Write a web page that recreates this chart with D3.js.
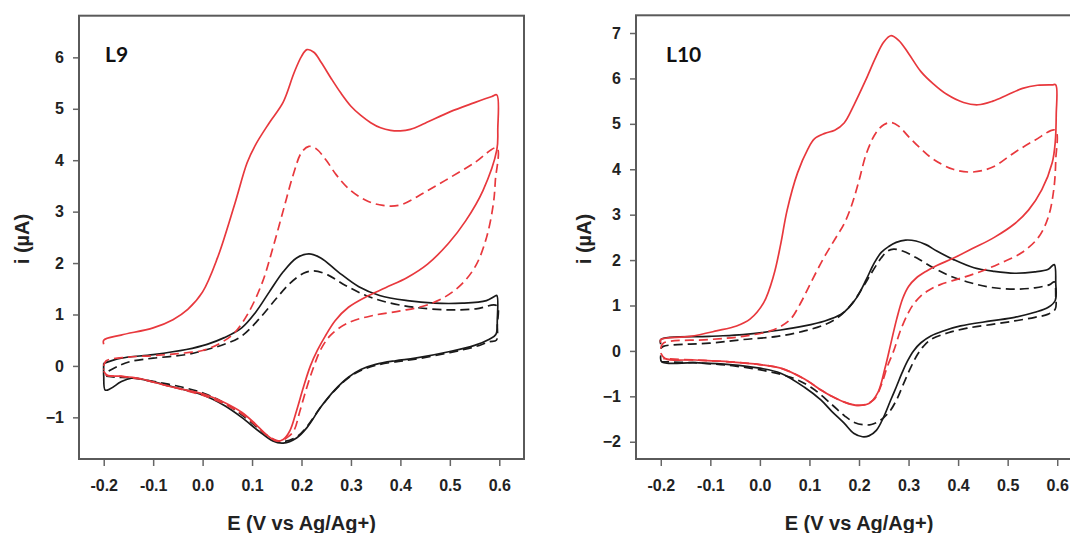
<!DOCTYPE html>
<html>
<head>
<meta charset="utf-8">
<script src="https://cdn.jsdelivr.net/npm/d3@7"></script>
<style>
  html, body { margin: 0; padding: 0; background: #fff; }
  svg { display: block; }
  .tick text { font-family: "Liberation Sans", Arial, sans-serif; font-weight: bold; font-size: 16px; fill: #222; }
  .tick line { stroke: #666; stroke-width: 1.5; }
</style>
</head>
<body>
<svg id="chart" width="1070" height="533"></svg>
<script>
// ---------- data ----------
const xTickValues = [-0.2, -0.1, 0.0, 0.1, 0.2, 0.3, 0.4, 0.5, 0.6];
const xTickLabels = ["-0.2", "-0.1", "0.0", "0.1", "0.2", "0.3", "0.4", "0.5", "0.6"];
const l9YTicks = [-1, 0, 1, 2, 3, 4, 5, 6];
const l10YTicks = [-2, -1, 0, 1, 2, 3, 4, 5, 6, 7];
const panelNames = ["L9", "L10"];
const xTitle = "E (V vs Ag/Ag+)";
const yTitle = "i (µA)";

// L9 curves [E (V), i (µA)]
const l9RedSolid = [[-0.2,0.42],[-0.2,0.5],[-0.165,0.6],[-0.1,0.74],[-0.06,0.9],[-0.03,1.1],[0.0,1.44],[0.03,2.1],[0.065,3.15],[0.09,3.95],[0.107,4.3],[0.135,4.73],[0.163,5.13],[0.185,5.7],[0.2,6.02],[0.211,6.15],[0.225,6.1],[0.24,5.9],[0.26,5.59],[0.28,5.3],[0.3,5.05],[0.32,4.87],[0.34,4.73],[0.36,4.63],[0.38,4.58],[0.4,4.57],[0.42,4.6],[0.45,4.72],[0.5,4.94],[0.55,5.12],[0.585,5.24],[0.595,5.27],[0.597,4.6],[0.595,4.2],[0.567,3.41],[0.532,2.82],[0.497,2.38],[0.455,1.98],[0.414,1.72],[0.37,1.52],[0.33,1.34],[0.295,1.14],[0.268,0.88],[0.248,0.58],[0.232,0.3],[0.218,0.0],[0.204,-0.41],[0.19,-0.87],[0.176,-1.27],[0.163,-1.43],[0.149,-1.46],[0.128,-1.33],[0.107,-1.13],[0.079,-0.9],[0.044,-0.71],[0.009,-0.57],[-0.033,-0.47],[-0.074,-0.38],[-0.13,-0.24],[-0.165,-0.2],[-0.193,-0.18],[-0.2,-0.1]];
const l9RedDash = [[-0.2,0.0],[-0.195,0.1],[-0.15,0.17],[-0.1,0.2],[-0.05,0.24],[0.0,0.3],[0.037,0.45],[0.065,0.65],[0.093,1.04],[0.121,1.63],[0.142,2.29],[0.163,3.02],[0.184,3.74],[0.2,4.15],[0.215,4.27],[0.23,4.22],[0.25,4.0],[0.27,3.72],[0.295,3.45],[0.33,3.22],[0.365,3.12],[0.4,3.13],[0.45,3.38],[0.5,3.66],[0.55,3.95],[0.595,4.24],[0.592,3.6],[0.588,3.15],[0.574,2.49],[0.553,1.96],[0.525,1.6],[0.49,1.34],[0.449,1.17],[0.4,1.07],[0.344,0.98],[0.295,0.84],[0.26,0.61],[0.239,0.32],[0.225,-0.01],[0.211,-0.41],[0.197,-0.87],[0.184,-1.27],[0.17,-1.4],[0.156,-1.46],[0.135,-1.38],[0.107,-1.15],[0.079,-0.93],[0.044,-0.74],[0.009,-0.6],[-0.033,-0.48],[-0.074,-0.38],[-0.13,-0.25],[-0.17,-0.2],[-0.195,-0.18],[-0.2,-0.05]];
const l9BlackSolid = [[-0.2,0.05],[-0.165,0.15],[-0.1,0.22],[-0.033,0.32],[0.009,0.42],[0.044,0.55],[0.079,0.74],[0.107,1.04],[0.135,1.44],[0.163,1.83],[0.19,2.1],[0.215,2.18],[0.239,2.1],[0.274,1.83],[0.316,1.54],[0.358,1.37],[0.414,1.27],[0.469,1.22],[0.525,1.22],[0.574,1.27],[0.59,1.35],[0.595,1.37],[0.596,0.9],[0.593,0.61],[0.58,0.52],[0.55,0.4],[0.5,0.28],[0.43,0.15],[0.39,0.1],[0.35,0.03],[0.32,-0.07],[0.295,-0.22],[0.267,-0.47],[0.239,-0.8],[0.211,-1.2],[0.19,-1.4],[0.163,-1.5],[0.142,-1.46],[0.114,-1.27],[0.079,-1.0],[0.044,-0.77],[0.002,-0.57],[-0.047,-0.44],[-0.1,-0.31],[-0.144,-0.24],[-0.165,-0.31],[-0.186,-0.44],[-0.197,-0.47],[-0.2,-0.2],[-0.2,0.05]];
const l9BlackDash = [[-0.19,-0.1],[-0.17,0.0],[-0.144,0.09],[-0.1,0.15],[-0.033,0.22],[0.009,0.32],[0.044,0.42],[0.079,0.58],[0.114,0.91],[0.149,1.31],[0.176,1.6],[0.204,1.8],[0.225,1.85],[0.253,1.77],[0.288,1.57],[0.33,1.37],[0.372,1.24],[0.428,1.14],[0.497,1.09],[0.553,1.11],[0.595,1.17],[0.596,0.8],[0.594,0.5],[0.58,0.47],[0.55,0.37],[0.5,0.26],[0.43,0.13],[0.39,0.08],[0.35,0.01],[0.32,-0.09],[0.295,-0.23],[0.267,-0.48],[0.239,-0.8],[0.211,-1.18],[0.19,-1.38],[0.163,-1.47],[0.142,-1.43],[0.114,-1.22],[0.079,-0.95],[0.044,-0.72],[0.002,-0.53],[-0.047,-0.4],[-0.1,-0.3],[-0.144,-0.23],[-0.175,-0.22],[-0.195,-0.2]];

// L10 curves [E (V), i (µA)]
const l10RedSolid = [[-0.2,0.18],[-0.2,0.25],[-0.141,0.32],[-0.088,0.44],[-0.047,0.55],[-0.02,0.7],[0.008,1.07],[0.028,1.67],[0.042,2.35],[0.055,3.1],[0.076,3.92],[0.097,4.45],[0.11,4.67],[0.131,4.79],[0.151,4.86],[0.17,5.02],[0.19,5.42],[0.213,5.95],[0.234,6.47],[0.25,6.8],[0.264,6.94],[0.28,6.84],[0.3,6.55],[0.325,6.15],[0.35,5.88],[0.377,5.65],[0.411,5.47],[0.44,5.42],[0.47,5.5],[0.5,5.64],[0.53,5.78],[0.56,5.85],[0.59,5.86],[0.597,5.86],[0.598,5.2],[0.596,4.6],[0.59,4.15],[0.569,3.55],[0.542,3.1],[0.514,2.8],[0.473,2.5],[0.432,2.27],[0.39,2.04],[0.357,1.88],[0.335,1.75],[0.315,1.6],[0.3,1.42],[0.288,1.15],[0.276,0.7],[0.264,0.15],[0.252,-0.4],[0.238,-0.92],[0.22,-1.16],[0.197,-1.2],[0.176,-1.15],[0.145,-1.0],[0.123,-0.86],[0.09,-0.62],[0.042,-0.38],[0.0,-0.3],[-0.061,-0.24],[-0.13,-0.2],[-0.191,-0.17],[-0.2,-0.05]];
const l10RedDash = [[-0.2,0.05],[-0.195,0.17],[-0.102,0.25],[-0.034,0.32],[0.021,0.44],[0.042,0.54],[0.062,0.7],[0.082,1.05],[0.105,1.55],[0.129,2.05],[0.152,2.47],[0.17,2.8],[0.185,3.2],[0.2,3.75],[0.215,4.35],[0.234,4.8],[0.25,4.98],[0.265,5.03],[0.28,4.95],[0.3,4.72],[0.325,4.45],[0.35,4.22],[0.39,4.0],[0.43,3.94],[0.47,4.05],[0.514,4.37],[0.555,4.64],[0.596,4.86],[0.597,4.2],[0.593,3.55],[0.582,2.95],[0.562,2.5],[0.528,2.16],[0.487,1.94],[0.446,1.75],[0.405,1.6],[0.364,1.46],[0.34,1.33],[0.324,1.2],[0.31,1.03],[0.3,0.85],[0.284,0.46],[0.27,0.0],[0.257,-0.35],[0.245,-0.75],[0.232,-1.05],[0.215,-1.17],[0.197,-1.2],[0.176,-1.15],[0.145,-1.0],[0.123,-0.86],[0.09,-0.62],[0.042,-0.38],[0.0,-0.3],[-0.061,-0.24],[-0.13,-0.2],[-0.195,-0.17]];
const l10BlackSolid = [[-0.2,0.15],[-0.2,0.25],[-0.102,0.32],[-0.034,0.36],[0.042,0.46],[0.09,0.55],[0.131,0.66],[0.163,0.8],[0.18,0.96],[0.197,1.2],[0.215,1.58],[0.23,1.92],[0.245,2.17],[0.26,2.3],[0.275,2.39],[0.294,2.44],[0.315,2.42],[0.335,2.34],[0.357,2.2],[0.391,2.01],[0.432,1.83],[0.473,1.75],[0.514,1.71],[0.555,1.74],[0.582,1.8],[0.594,1.9],[0.597,1.5],[0.596,1.11],[0.582,0.96],[0.555,0.85],[0.514,0.74],[0.466,0.66],[0.405,0.55],[0.37,0.44],[0.345,0.33],[0.325,0.18],[0.31,0.0],[0.298,-0.22],[0.287,-0.48],[0.275,-0.8],[0.264,-1.08],[0.25,-1.45],[0.235,-1.75],[0.22,-1.87],[0.207,-1.89],[0.19,-1.82],[0.17,-1.59],[0.145,-1.33],[0.123,-1.08],[0.09,-0.8],[0.042,-0.49],[0.0,-0.38],[-0.061,-0.3],[-0.13,-0.26],[-0.198,-0.24],[-0.2,-0.1]];
const l10BlackDash = [[-0.2,0.05],[-0.195,0.1],[-0.102,0.17],[-0.034,0.25],[0.035,0.32],[0.09,0.44],[0.131,0.58],[0.158,0.74],[0.185,1.03],[0.206,1.37],[0.227,1.75],[0.245,2.05],[0.258,2.2],[0.27,2.24],[0.288,2.2],[0.316,2.05],[0.35,1.83],[0.384,1.65],[0.425,1.5],[0.466,1.4],[0.514,1.36],[0.555,1.39],[0.585,1.46],[0.594,1.52],[0.597,1.2],[0.596,0.92],[0.582,0.81],[0.555,0.74],[0.514,0.66],[0.466,0.58],[0.418,0.5],[0.38,0.4],[0.345,0.25],[0.33,0.1],[0.318,-0.08],[0.305,-0.35],[0.29,-0.72],[0.277,-1.05],[0.262,-1.33],[0.243,-1.53],[0.225,-1.62],[0.213,-1.63],[0.192,-1.58],[0.172,-1.44],[0.145,-1.18],[0.103,-0.8],[0.062,-0.58],[0.007,-0.43],[-0.061,-0.32],[-0.136,-0.26],[-0.198,-0.24]];

// ---------- layout / style ----------
const RED = "#e8383d", BLACK = "#1a1a1a";
const panels = [
  { name: panelNames[0], x0: 79, x1: 524, y0: 15.7, y1: 459, xDom: [-0.25, 0.65], yDom: [-1.81, 6.81], yTicks: l9YTicks,
    curves: [l9RedSolid, l9RedDash, l9BlackSolid, l9BlackDash], yTitleX: 22, labelX: 105 },
  { name: panelNames[1], x0: 636, x1: 1082, y0: 15.3, y1: 459, xDom: [-0.25, 0.65], yDom: [-2.38, 7.39], yTicks: l10YTicks,
    curves: [l10RedSolid, l10RedDash, l10BlackSolid, l10BlackDash], yTitleX: 584, labelX: 666 }
];
const curveStyles = [
  { color: RED, dash: null }, { color: RED, dash: "9,5" },
  { color: BLACK, dash: null }, { color: BLACK, dash: "9,5" }
];

const svg = d3.select("#chart");
svg.append("rect").attr("width", 1070).attr("height", 533).attr("fill", "#fff");

panels.forEach(p => {
  const x = d3.scaleLinear().domain(p.xDom).range([p.x0, p.x1]);
  const y = d3.scaleLinear().domain(p.yDom).range([p.y1, p.y0]);
  const g = svg.append("g");

  const clipId = "clip-" + p.name;
  svg.append("clipPath").attr("id", clipId).append("rect")
    .attr("x", p.x0).attr("y", p.y0).attr("width", p.x1 - p.x0).attr("height", p.y1 - p.y0);
  const line = d3.line().x(d => x(d[0])).y(d => y(d[1])).curve(d3.curveCatmullRom.alpha(0.5));
  const cg = g.append("g").attr("clip-path", `url(#${clipId})`);
  [2, 3, 1, 0].forEach(k => {
    cg.append("path").datum(p.curves[k])
      .attr("d", line)
      .attr("fill", "none")
      .attr("stroke", curveStyles[k].color)
      .attr("stroke-width", 1.7)
      .attr("stroke-linejoin", "round")
      .attr("stroke-dasharray", curveStyles[k].dash);
  });

  const xAxis = d3.axisBottom(x).tickValues(xTickValues)
    .tickFormat((d, i) => xTickLabels[i]).tickSize(6).tickPadding(14);
  const gx = g.append("g").attr("transform", `translate(0,${p.y1 + 1})`).call(xAxis);
  gx.select(".domain").remove();

  const yAxis = d3.axisLeft(y).tickValues(p.yTicks).tickFormat(d3.format("d")).tickSize(6).tickPadding(9);
  const gy = g.append("g").attr("transform", `translate(${p.x0},0)`).call(yAxis);
  gy.select(".domain").remove();

  g.append("rect").attr("x", p.x0).attr("y", p.y0)
    .attr("width", p.x1 - p.x0).attr("height", p.y1 - p.y0)
    .attr("fill", "none").attr("stroke", "#5a5a5a").attr("stroke-width", 2);

  g.append("text").attr("x", p.labelX).attr("y", 62)
    .attr("font-family", "Lato, 'Open Sans', sans-serif").attr("font-weight", 700)
    .attr("font-size", 21).attr("fill", "#111").text(p.name);

  g.append("text").attr("x", (p.x0 + p.x1) / 2).attr("y", 530)
    .attr("text-anchor", "middle")
    .attr("font-family", "'Liberation Sans', Arial, sans-serif").attr("font-weight", "bold")
    .attr("font-size", 20).attr("fill", "#222").text(xTitle);
  g.append("text")
    .attr("transform", `translate(${p.yTitleX + 7},239) rotate(-90)`)
    .attr("text-anchor", "middle")
    .attr("font-family", "'Liberation Sans', Arial, sans-serif").attr("font-weight", "bold")
    .attr("font-size", 20).attr("fill", "#222").text(yTitle);
});
</script>
</body>
</html>
